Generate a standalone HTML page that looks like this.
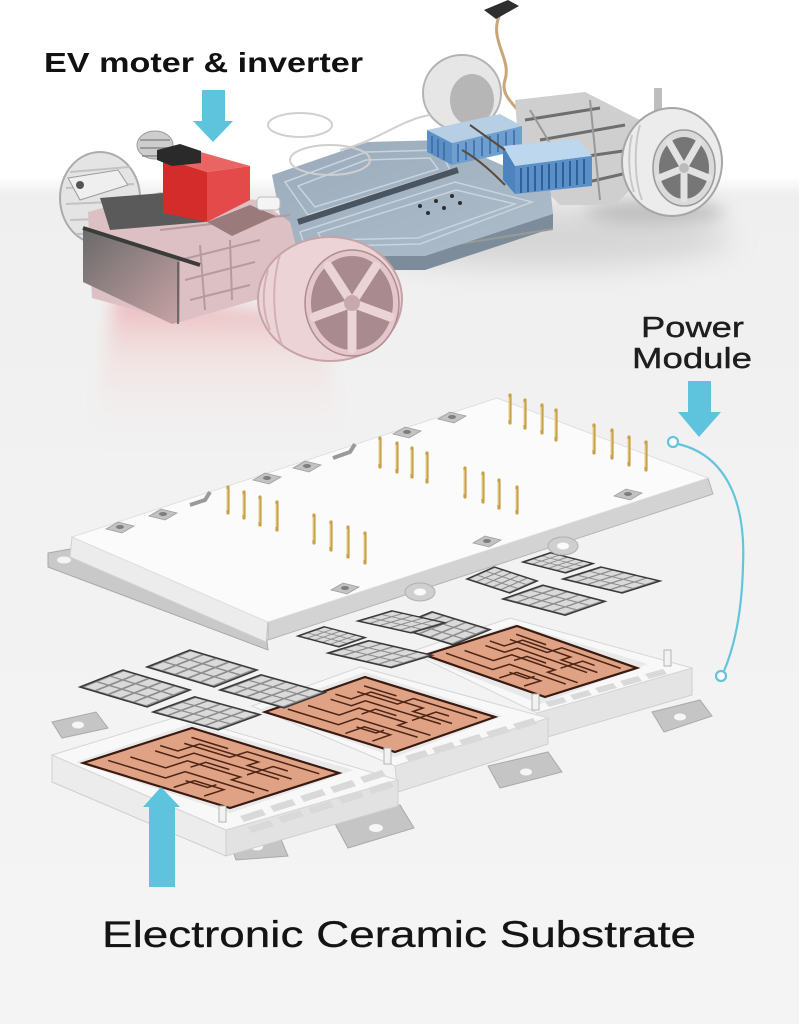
<!DOCTYPE html>
<html><head><meta charset="utf-8"><style>
html,body{margin:0;padding:0;background:#f3f3f3;}
svg{display:block;}
</style></head><body>
<svg width="799" height="1024" viewBox="0 0 799 1024" xmlns="http://www.w3.org/2000/svg">
<defs>
<linearGradient id="bg" x1="0" y1="0" x2="0" y2="1024" gradientUnits="userSpaceOnUse">
<stop offset="0" stop-color="#ffffff"/><stop offset="0.172" stop-color="#ffffff"/><stop offset="0.19" stop-color="#efefef"/><stop offset="0.5" stop-color="#f2f2f2"/><stop offset="1" stop-color="#f4f4f4"/>
</linearGradient>
<filter id="b3" x="-50%" y="-50%" width="200%" height="200%"><feGaussianBlur stdDeviation="3"/></filter>
<filter id="b8" x="-50%" y="-50%" width="200%" height="200%"><feGaussianBlur stdDeviation="8"/></filter>
<filter id="b14" x="-50%" y="-50%" width="200%" height="200%"><feGaussianBlur stdDeviation="14"/></filter>
<linearGradient id="glow" x1="0" y1="0" x2="0" y2="1">
<stop offset="0" stop-color="#e6a0a5" stop-opacity="0.75"/><stop offset="0.4" stop-color="#f2caca" stop-opacity="0.4"/><stop offset="1" stop-color="#f6e6e6" stop-opacity="0"/>
</linearGradient>
<linearGradient id="gbox" x1="0" y1="0" x2="1" y2="1">
<stop offset="0" stop-color="#6a6a6a"/><stop offset="1" stop-color="#c9a3a6"/>
</linearGradient>
<linearGradient id="bat" x1="0" y1="0" x2="1" y2="1">
<stop offset="0" stop-color="#9aabbb"/><stop offset="1" stop-color="#aebdca"/>
</linearGradient>
<g id="chip">
<rect x="0" y="0" width="1" height="1" fill="#8e8e8e" stroke="#3a3a3a" stroke-width="1.5" vector-effect="non-scaling-stroke"/>
<g fill="#dadada">
<rect x="0.05" y="0.04" width="0.27" height="0.15"/><rect x="0.37" y="0.04" width="0.27" height="0.15"/><rect x="0.69" y="0.04" width="0.27" height="0.15"/>
<rect x="0.05" y="0.23" width="0.27" height="0.15"/><rect x="0.37" y="0.23" width="0.27" height="0.15"/><rect x="0.69" y="0.23" width="0.27" height="0.15"/>
<rect x="0.05" y="0.42" width="0.27" height="0.15"/><rect x="0.37" y="0.42" width="0.27" height="0.15"/><rect x="0.69" y="0.42" width="0.27" height="0.15"/>
<rect x="0.05" y="0.61" width="0.27" height="0.15"/><rect x="0.37" y="0.61" width="0.27" height="0.15"/><rect x="0.69" y="0.61" width="0.27" height="0.15"/>
<rect x="0.05" y="0.80" width="0.27" height="0.15"/><rect x="0.37" y="0.80" width="0.27" height="0.15"/><rect x="0.69" y="0.80" width="0.27" height="0.15"/>
</g>
</g>
<g id="plate">
<rect x="0" y="0" width="1" height="1" fill="#dfa285" stroke="#3a1a10" stroke-width="2.2" vector-effect="non-scaling-stroke"/>
<g fill="none" stroke="#4e2415" stroke-width="1.5">
<path vector-effect="non-scaling-stroke" d="M0.15,0.06 V0.45 H0.33 V0.92"/>
<path vector-effect="non-scaling-stroke" d="M0.3,0.1 V0.34 H0.5 V0.7 H0.42 V0.95"/>
<path vector-effect="non-scaling-stroke" d="M0.5,0.12 V0.28 H0.64 V0.86"/>
<path vector-effect="non-scaling-stroke" d="M0.6,0.08 V0.2 H0.8 V0.6 H0.7 V0.9"/>
<path vector-effect="non-scaling-stroke" d="M0.74,0.14 V0.45 H0.9 V0.94"/>
<path vector-effect="non-scaling-stroke" d="M0.86,0.1 V0.35"/>
<path vector-effect="non-scaling-stroke" d="M0.05,0.58 H0.24 V0.78 H0.06"/>
<path vector-effect="non-scaling-stroke" d="M0.42,0.42 H0.56 V0.58"/>
<path vector-effect="non-scaling-stroke" d="M0.2,0.55 V0.7 H0.28"/>
<path vector-effect="non-scaling-stroke" d="M0.56,0.7 H0.8 V0.8"/>
</g>
</g>
</defs>

<rect width="799" height="1024" fill="url(#bg)"/>

<!-- shadows -->
<ellipse cx="540" cy="238" rx="190" ry="30" fill="#cdcdcd" opacity="0.75" filter="url(#b14)"/>
<ellipse cx="655" cy="212" rx="70" ry="12" fill="#b5b5b5" opacity="0.8" filter="url(#b8)"/>
<polygon points="115,295 320,315 345,440 90,440" fill="url(#glow)" filter="url(#b8)"/>

<!-- ===== CAR ===== -->
<path d="M500,14 C488,40 512,58 505,80 C500,96 515,104 522,116" fill="none" stroke="#c9a57a" stroke-width="3"/>
<polygon points="484,10 508,0 519,6 496,19" fill="#2e2e2e"/>
<ellipse cx="462" cy="93" rx="39" ry="38" fill="#e6e6e6" stroke="#b3b3b3" stroke-width="2"/>
<ellipse cx="472" cy="100" rx="22" ry="26" fill="#8e8e8e" opacity="0.55"/>
<polygon points="515,100 585,92 640,120 645,175 615,205 560,205 520,165" fill="#cfcfcf"/>
<path d="M525,120 L600,108 M540,140 L625,125 M560,160 L630,150 M575,185 L640,170" stroke="#6e6e6e" stroke-width="3" fill="none"/>
<path d="M530,110 L560,160 M590,100 L600,200" stroke="#999" stroke-width="2" fill="none"/>
<rect x="654" y="88" width="8" height="26" fill="#bdbdbd"/>
<!-- rear-right wheel -->
<ellipse cx="672" cy="162" rx="50" ry="54" fill="#ececec" stroke="#a6a6a6" stroke-width="2"/>
<path d="M632,135 C628,150 628,175 634,192 M640,125 C634,145 634,180 642,200" stroke="#c8c8c8" stroke-width="2" fill="none"/>
<ellipse cx="684" cy="168" rx="31" ry="38" fill="#dadada" stroke="#9a9a9a" stroke-width="1.5"/>
<ellipse cx="684" cy="168" rx="25" ry="31" fill="#767676"/>
<g stroke="#e2e2e2" stroke-width="7" stroke-linecap="round">
<line x1="684" y1="168" x2="709" y2="178"/><line x1="684" y1="168" x2="684" y2="199"/><line x1="684" y1="168" x2="659" y2="178"/><line x1="684" y1="168" x2="669" y2="142"/><line x1="684" y1="168" x2="699" y2="142"/>
</g>
<circle cx="684" cy="168" r="5" fill="#bbb"/>
<!-- battery -->
<polygon points="290,255 425,255 553,213 553,228 425,270 290,270" fill="#7d8c9a"/>
<line x1="290" y1="271" x2="553" y2="229" stroke="#999" stroke-width="2"/>
<polygon points="272,175 368,142 445,140 550,186 553,214 425,256 292,256 280,215" fill="url(#bat)"/>
<g fill="none" stroke="#c8d4df" stroke-width="1.5">
<polygon points="300,232 455,182 532,202 420,244 305,247"/>
<polygon points="318,233 456,190 515,204 418,238 322,240"/>
<polygon points="285,182 366,152 440,150 450,170 308,215"/>
<polygon points="298,186 366,160 430,158 438,169 315,207"/>
</g>
<line x1="298" y1="222" x2="458" y2="170" stroke="#4b5560" stroke-width="6"/>
<g fill="#2e2e2e">
<circle cx="420" cy="206" r="2"/><circle cx="436" cy="201" r="2"/><circle cx="452" cy="196" r="2"/><circle cx="428" cy="213" r="2"/><circle cx="444" cy="208" r="2"/><circle cx="460" cy="203" r="2"/>
</g>
<!-- blue boxes -->
<polygon points="427,130 500,114 522,126 452,143" fill="#b6cfe5"/>
<polygon points="427,130 452,143 452,165 427,152" fill="#5b8fc6"/>
<polygon points="452,143 522,126 522,150 452,165" fill="#6f9fcf"/>
<path d="M432,136v17 M438,139v18 M444,142v18 M458,144v18 M466,142v18 M474,140v18 M482,138v18 M490,136v18 M498,134v18 M506,132v18 M514,130v18" stroke="#3a6aa0" stroke-width="1.5"/>
<polygon points="503,146 578,139 592,156 515,166" fill="#bcd7ee"/>
<polygon points="503,146 515,166 515,194 503,180" fill="#4d84bf"/>
<polygon points="515,166 592,156 592,186 515,194" fill="#5a8fc8"/>
<path d="M521,168v25 M528,167v25 M535,166v25 M542,165v25 M549,164v25 M556,163v25 M563,162v25 M570,161v25 M577,160v25 M584,159v25" stroke="#2f6099" stroke-width="2"/>
<path d="M462,150 C480,160 495,175 505,185 M470,125 L505,150" stroke="#5a4a3a" stroke-width="2" fill="none"/>
<g fill="none" stroke="#cfcfcf" stroke-width="2">
<ellipse cx="300" cy="125" rx="32" ry="12"/><ellipse cx="330" cy="160" rx="40" ry="15"/><path d="M340,150 C380,140 400,120 430,115"/>
</g>
<!-- front-left wheel -->
<ellipse cx="100" cy="198" rx="40" ry="46" fill="#e4e4e4" stroke="#ababab" stroke-width="2"/>
<path d="M70,172 L130,167 M66,188 L134,184 M66,204 L134,201 M70,220 L130,218 M76,234 L124,233" stroke="#c2c2c2" stroke-width="2"/>
<ellipse cx="155" cy="145" rx="18" ry="14" fill="#cdcdcd" stroke="#9a9a9a"/>
<path d="M140,140 h30 M140,148 h30 M142,156 h26" stroke="#8a8a8a" stroke-width="1.5"/>
<polygon points="68,178 118,170 128,185 80,200" fill="#efefef" stroke="#9a9a9a"/>
<circle cx="80" cy="185" r="4" fill="#555"/>
<!-- motor -->
<polygon points="88,212 160,192 258,200 290,222 300,262 262,298 180,322 92,298" fill="#dcc0c3"/>
<path d="M180,260 L260,240 M185,280 L255,262 M190,300 L250,285 M200,245 L205,310 M230,240 L232,300 M160,230 L290,215" stroke="#b89a9e" stroke-width="2" fill="none"/>
<polygon points="100,198 175,192 205,222 110,230" fill="#5a5a5a"/>
<polygon points="83,230 180,260 180,322 172,324 83,282" fill="url(#gbox)"/>
<line x1="83" y1="228" x2="200" y2="265" stroke="#3b3b3b" stroke-width="4"/>
<line x1="178" y1="262" x2="178" y2="324" stroke="#555" stroke-width="1.5"/>
<!-- red inverter -->
<polygon points="163,158 207,172 207,222 163,213" fill="#d42b2b"/>
<polygon points="207,172 250,166 250,200 207,222" fill="#e44a4a"/>
<polygon points="163,158 190,149 250,166 207,172" fill="#ea6464"/>
<polygon points="157,150 180,144 201,151 201,163 172,166 157,160" fill="#2a2a2a"/>
<polygon points="207,222 250,205 276,216 232,236" fill="#9a7a7b"/>
<rect x="257" y="197" width="23" height="13" rx="4" fill="#f4f4f4" stroke="#bbb"/>
<!-- front-right pink wheel -->
<ellipse cx="330" cy="299" rx="72" ry="62" fill="#ecd4d6" stroke="#c6a3a7" stroke-width="2"/>
<ellipse cx="352" cy="303" rx="47" ry="53" fill="#e3c7ca" stroke="#b08b90" stroke-width="1.5"/>
<ellipse cx="352" cy="303" rx="41" ry="47" fill="#a98a8e"/>
<g stroke="#ead4d6" stroke-width="9" stroke-linecap="round">
<line x1="352" y1="303" x2="390" y2="317"/><line x1="352" y1="303" x2="352" y2="349"/><line x1="352" y1="303" x2="314" y2="317"/><line x1="352" y1="303" x2="328" y2="266"/><line x1="352" y1="303" x2="376" y2="266"/>
</g>
<circle cx="352" cy="303" r="8" fill="#c7a9ad"/>
<path d="M268,270 C262,290 262,310 270,330 M280,255 C272,280 272,320 282,345" stroke="#d2b0b4" stroke-width="2" fill="none"/>

<!-- ===== TEXT TOP ===== -->
<text x="44" y="72" font-family="Liberation Sans, sans-serif" font-weight="bold" font-size="28" fill="#111" textLength="319" lengthAdjust="spacingAndGlyphs">EV moter &amp; inverter</text>
<rect x="202" y="90" width="23" height="33" fill="#5ec3dc"/>
<polygon points="193,121 233,121 213,142" fill="#5ec3dc"/>

<text x="641" y="337" font-family="Liberation Sans, sans-serif" font-size="29" fill="#1e1e1e" stroke="#1e1e1e" stroke-width="0.4" textLength="103" lengthAdjust="spacingAndGlyphs">Power</text>
<text x="632" y="368" font-family="Liberation Sans, sans-serif" font-size="29" fill="#1e1e1e" stroke="#1e1e1e" stroke-width="0.4" textLength="120" lengthAdjust="spacingAndGlyphs">Module</text>
<rect x="688" y="381" width="23" height="33" fill="#5ec3dc"/>
<polygon points="678,412 721,412 699,437" fill="#5ec3dc"/>
<path d="M678,444 C725,455 746,500 743,565 C742,610 735,645 724,671" fill="none" stroke="#63c4dc" stroke-width="2.2"/>
<circle cx="673" cy="442" r="5" fill="#fff" stroke="#63c4dc" stroke-width="2.2"/>
<circle cx="721" cy="676" r="5" fill="#fff" stroke="#63c4dc" stroke-width="2.2"/>

<!-- ===== BASE ===== -->
<g fill="#c5c5c5" stroke="#aaa">
<polygon points="652,712 700,700 712,716 664,732"/>
<polygon points="488,766 548,752 562,772 500,788"/>
<polygon points="334,822 400,805 414,828 348,848"/>
<polygon points="228,836 278,832 288,856 236,860"/>
<polygon points="52,722 96,712 108,728 62,738"/>
</g>
<g fill="#f6f6f6">
<ellipse cx="680" cy="717" rx="6" ry="3.5"/><ellipse cx="526" cy="772" rx="6" ry="3.5"/><ellipse cx="376" cy="828" rx="7" ry="4"/><ellipse cx="257" cy="847" rx="6" ry="3.5"/><ellipse cx="78" cy="725" rx="6" ry="3.5"/>
</g>
<!-- housing 3 -->
<polygon points="537,713 692,668 692,695 537,740" fill="#e4e4e4" stroke="#cfcfcf"/>
<polygon points="410,652 510,618 692,668 537,713" fill="#f8f8f8" stroke="#d6d6d6"/>
<polygon points="418,655 515,624 648,664 540,704" fill="#e9e9e9"/>
<!-- housing 2 -->
<polygon points="395,766 548,718 548,744 398,792" fill="#e4e4e4" stroke="#cfcfcf"/>
<polygon points="252,706 360,667 548,718 395,766" fill="#f8f8f8" stroke="#d6d6d6"/>
<polygon points="258,710 365,672 503,716 395,757" fill="#e9e9e9"/>
<!-- housing 1 -->
<polygon points="52,755 226,830 226,856 52,782" fill="#ececec" stroke="#cfcfcf"/>
<polygon points="226,830 398,780 398,806 226,856" fill="#e2e2e2" stroke="#cfcfcf"/>
<polygon points="52,755 180,716 398,780 226,830" fill="#f8f8f8" stroke="#d6d6d6"/>
<polygon points="76,762 190,724 354,770 230,813" fill="#e9e9e9"/>
<!-- plates -->
<use href="#plate" transform="matrix(92,-29,120,42,425,655)"/>
<use href="#plate" transform="matrix(100,-35,130,40,265,712)"/>
<use href="#plate" transform="matrix(109,-35,147,45,83,763)"/>
<!-- connector cells -->
<g fill="#d9d9d9">
<polygon points="240,816 262,809 266,815 244,822"/><polygon points="270,806 292,799 296,805 274,812"/><polygon points="300,796 322,789 326,795 304,802"/><polygon points="330,787 352,780 356,786 334,793"/><polygon points="360,777 382,770 386,776 364,783"/>
<polygon points="248,827 270,820 274,826 252,833"/><polygon points="278,817 300,810 304,816 282,823"/><polygon points="308,808 330,801 334,807 312,814"/><polygon points="338,798 360,791 364,797 342,804"/><polygon points="368,788 390,781 394,787 372,794"/>
<polygon points="405,756 425,750 429,756 409,762"/><polygon points="432,748 452,742 456,748 436,754"/><polygon points="459,740 479,734 483,740 463,746"/><polygon points="486,732 506,726 510,732 490,738"/><polygon points="513,724 533,718 537,724 517,730"/>
<polygon points="545,702 563,697 567,702 549,707"/><polygon points="570,695 588,690 592,695 574,700"/><polygon points="595,688 613,683 617,688 599,693"/><polygon points="620,681 638,676 642,681 624,686"/><polygon points="645,674 663,669 667,674 649,679"/>
</g>
<g fill="#f2f2f2" stroke="#b5b5b5">
<rect x="219" y="806" width="7" height="16"/><rect x="384" y="748" width="7" height="16"/><rect x="532" y="694" width="7" height="16"/><rect x="664" y="650" width="7" height="16"/>
</g>

<!-- chip arrays -->
<use href="#chip" transform="matrix(27.3,-9.2,42.7,10.8,523,562)"/>
<use href="#chip" transform="matrix(37.8,-12,59.2,14,563,579)"/>
<use href="#chip" transform="matrix(27.3,-12,42.7,14,467,579)"/>
<use href="#chip" transform="matrix(39.8,-13.8,62.2,16.2,503,599)"/>
<use href="#chip" transform="matrix(37,-15.2,58,17.8,395,627)"/>
<use href="#chip" transform="matrix(42.9,-17,67.1,20,80,687)"/>
<use href="#chip" transform="matrix(42.9,-17,67.1,20,147,667)"/>
<use href="#chip" transform="matrix(41.7,-15.2,65.3,17.8,153,712)"/>
<use href="#chip" transform="matrix(41,-15.2,64,17.8,220,690)"/>
<use href="#chip" transform="matrix(26.1,-9.2,40.9,10.8,298,636)"/>
<use href="#chip" transform="matrix(40.6,-12.4,63.4,14.6,328,653)"/>
<use href="#chip" transform="matrix(33.9,-10.1,53.1,11.9,358,621)"/>

<!-- ===== LID ===== -->
<polygon points="48,553 70,549 266,634 268,650 48,567" fill="#c9c9c9" stroke="#aaa"/>
<ellipse cx="64" cy="560" rx="7" ry="3.5" fill="#f4f4f4"/>
<polygon points="72,537 268,622 266,642 70,557" fill="#ececec" stroke="#d0d0d0"/>
<polygon points="268,622 708,478 713,494 268,640" fill="#d3d3d3" stroke="#b5b5b5"/>
<ellipse cx="420" cy="592" rx="15" ry="9" fill="#cfcfcf" stroke="#b0b0b0"/>
<ellipse cx="420" cy="592" rx="6" ry="3.5" fill="#fafafa"/>
<ellipse cx="563" cy="546" rx="15" ry="9" fill="#cfcfcf" stroke="#b0b0b0"/>
<ellipse cx="563" cy="546" rx="6" ry="3.5" fill="#fafafa"/>
<polygon points="72,537 497,398 708,478 268,622" fill="#fbfbfb" stroke="#e0e0e0"/>
<g fill="#c2c2c2" stroke="#9e9e9e" stroke-width="0.8">
<polygon points="106,529 118,522 134,526 122,533"/><polygon points="149,516 161,509 177,513 165,520"/>
<polygon points="253,480 265,473 281,477 269,484"/><polygon points="293,468 305,461 321,465 309,472"/>
<polygon points="393,434 405,427 421,431 409,438"/><polygon points="438,419 450,412 466,416 454,423"/>
<polygon points="331,590 343,583 359,587 347,594"/><polygon points="473,543 485,536 501,540 489,547"/><polygon points="614,496 626,489 642,493 630,500"/>
</g>
<g fill="#7e7e7e">
<ellipse cx="120" cy="527" rx="4" ry="2"/><ellipse cx="163" cy="514" rx="4" ry="2"/><ellipse cx="267" cy="478" rx="4" ry="2"/><ellipse cx="307" cy="466" rx="4" ry="2"/><ellipse cx="407" cy="432" rx="4" ry="2"/><ellipse cx="452" cy="417" rx="4" ry="2"/><ellipse cx="345" cy="588" rx="4" ry="2"/><ellipse cx="487" cy="541" rx="4" ry="2"/><ellipse cx="628" cy="494" rx="4" ry="2"/>
</g>
<path d="M190,505 L205,500 L210,492" stroke="#9a9a9a" stroke-width="4" fill="none"/>
<path d="M333,458 L350,452 L355,444" stroke="#9a9a9a" stroke-width="4" fill="none"/>
<!-- pins -->
<g stroke="#c8a24a" stroke-width="3.2" stroke-linecap="round">
<line x1="228" y1="487" x2="228" y2="513"/><line x1="244" y1="492" x2="244" y2="518"/><line x1="260" y1="497" x2="260" y2="525"/><line x1="277" y1="502" x2="277" y2="530"/>
<line x1="314" y1="515" x2="314" y2="543"/><line x1="331" y1="522" x2="331" y2="550"/><line x1="348" y1="527" x2="348" y2="557"/><line x1="365" y1="533" x2="365" y2="563"/>
<line x1="380" y1="438" x2="380" y2="467"/><line x1="397" y1="443" x2="397" y2="472"/><line x1="412" y1="448" x2="412" y2="477"/><line x1="427" y1="453" x2="427" y2="482"/>
<line x1="510" y1="395" x2="510" y2="423"/><line x1="525" y1="400" x2="525" y2="428"/><line x1="542" y1="405" x2="542" y2="433"/><line x1="556" y1="410" x2="556" y2="440"/>
<line x1="594" y1="425" x2="594" y2="453"/><line x1="612" y1="430" x2="612" y2="458"/><line x1="629" y1="437" x2="629" y2="465"/><line x1="646" y1="442" x2="646" y2="470"/>
<line x1="465" y1="468" x2="465" y2="497"/><line x1="483" y1="473" x2="483" y2="502"/><line x1="499" y1="480" x2="499" y2="508"/><line x1="517" y1="487" x2="517" y2="513"/>
</g>
<g stroke="#f1e1a6" stroke-width="1">
<line x1="227" y1="489" x2="227" y2="510"/><line x1="243" y1="494" x2="243" y2="515"/><line x1="259" y1="499" x2="259" y2="522"/><line x1="276" y1="504" x2="276" y2="527"/>
<line x1="313" y1="517" x2="313" y2="540"/><line x1="330" y1="524" x2="330" y2="547"/><line x1="347" y1="529" x2="347" y2="554"/><line x1="364" y1="535" x2="364" y2="560"/>
<line x1="379" y1="440" x2="379" y2="464"/><line x1="396" y1="445" x2="396" y2="469"/><line x1="411" y1="450" x2="411" y2="474"/><line x1="426" y1="455" x2="426" y2="479"/>
<line x1="509" y1="397" x2="509" y2="420"/><line x1="524" y1="402" x2="524" y2="425"/><line x1="541" y1="407" x2="541" y2="430"/><line x1="555" y1="412" x2="555" y2="437"/>
<line x1="593" y1="427" x2="593" y2="450"/><line x1="611" y1="432" x2="611" y2="455"/><line x1="628" y1="439" x2="628" y2="462"/><line x1="645" y1="444" x2="645" y2="467"/>
<line x1="464" y1="470" x2="464" y2="494"/><line x1="482" y1="475" x2="482" y2="499"/><line x1="498" y1="482" x2="498" y2="505"/><line x1="516" y1="489" x2="516" y2="510"/>
</g>

<!-- bottom arrow + text -->
<rect x="149" y="804" width="26" height="83" fill="#5ec3dc"/>
<polygon points="143,807 180,807 161,787" fill="#5ec3dc"/>
<text x="102" y="947" font-family="Liberation Sans, sans-serif" font-size="37" fill="#141414" stroke="#141414" stroke-width="0.3" textLength="594" lengthAdjust="spacingAndGlyphs">Electronic Ceramic Substrate</text>
</svg>
</body></html>
